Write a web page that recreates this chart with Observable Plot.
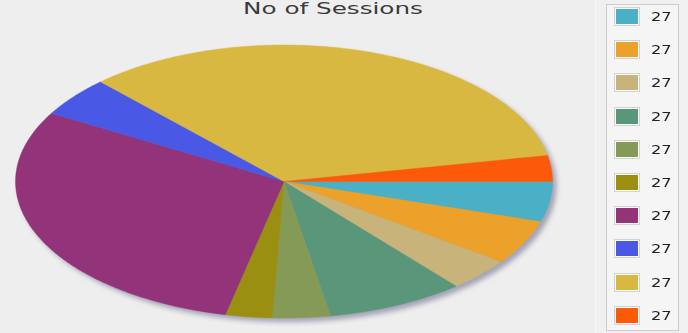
<!DOCTYPE html>
<html><head><meta charset="utf-8">
<script src="https://cdn.jsdelivr.net/npm/d3@7"></script>
<script src="https://cdn.jsdelivr.net/npm/@observablehq/plot@0.6"></script>
<style>
html,body{margin:0;padding:0;background:#eeeeee;}
#wrap{position:relative;width:688px;height:333px;overflow:hidden;background:#eeeeee;font-family:"DejaVu Sans",sans-serif;}
#plot{position:absolute;left:0;top:0;}
#title{position:absolute;top:0;left:333px;font-size:16px;color:#3a3a3a;white-space:nowrap;line-height:18px;transform:translateX(-50%) scaleX(1.54);}
#strip{position:absolute;left:595px;top:0;width:93px;height:333px;background:#f0f0f0;border-left:1px solid #f8f8f8;}
#legend{position:absolute;left:606px;top:4px;width:71px;height:325px;border:1px solid #cdcdcd;background:#f5f5f5;}
.item{position:absolute;left:0;width:71px;height:18px;}
.sw{position:absolute;left:8px;top:0;width:22px;height:15px;border:1.5px solid #fbfbfb;box-shadow:0 0 0 1px rgba(150,150,150,0.35);}
.lab{position:absolute;left:44px;top:0;line-height:18px;font-size:12px;color:#222;transform:scaleX(1.35);transform-origin:left center;}
</style>
</head><body>
<div id="wrap">
  <div id="strip"></div>
  <div id="plot"></div>
  <div id="title"></div>
  <div id="legend"></div>
</div>
<script>
const title = "No of Sessions";
const labels = ["27","27","27","27","27","27","27","27","27","27"];
const values = [4.75, 5.28, 3.89, 8.31, 3.47, 2.81, 29.83, 4.69, 33.92, 3.06];
const colors = ["#4ab0c6","#eba12a","#c8b47a","#5a977a","#869a58","#9b8f12","#93337a","#4a58e6","#d8b840","#fc5a08"];

document.getElementById("title").textContent = title;

const keys = d3.range(values.length);
const arcs = d3.pie().sort(null).value(d => d)
  .startAngle(Math.PI / 2).endAngle(Math.PI / 2 + 2 * Math.PI)(values);

const pts = [];
arcs.forEach((a, i) => {
  pts.push({k: i, u: 0, v: 0});
  const n = Math.max(2, Math.ceil((a.endAngle - a.startAngle) / 0.01));
  for (let j = 0; j <= n; j++) {
    const t = a.startAngle + (a.endAngle - a.startAngle) * j / n;
    pts.push({k: i, u: Math.sin(t), v: Math.cos(t)});
  }
  pts.push({k: i, u: 0, v: 0});
});
const shadow = d3.range(0, 361, 1).map(d => ({u: Math.cos(d * Math.PI / 180), v: Math.sin(d * Math.PI / 180)}));

const chart = Plot.plot({
  width: 595, height: 333, margin: 0,
  style: {background: "transparent", overflow: "visible"},
  x: {domain: [-1, 1], range: [15, 552], axis: null},
  y: {domain: [-1, 1], range: [317.5, 44.5], axis: null},
  color: {type: "ordinal", domain: keys, range: colors},
  marks: [
    Plot.line(shadow, {x: "u", y: "v", fill: "#8a8aa2", fillOpacity: 0.75, stroke: "none", dx: 4, dy: 4, imageFilter: "blur(2.5px)"}),
    Plot.line(pts, {x: "u", y: "v", z: "k", fill: "k", stroke: "k", strokeWidth: 0.4})
  ]
});
document.getElementById("plot").appendChild(chart);

const legend = document.getElementById("legend");
labels.forEach((l, i) => {
  const it = document.createElement("div");
  it.className = "item";
  it.style.top = (3 + i * 33.2) + "px";
  const sw = document.createElement("div");
  sw.className = "sw";
  sw.style.background = colors[i];
  const lb = document.createElement("div");
  lb.className = "lab";
  lb.textContent = l;
  it.appendChild(sw); it.appendChild(lb);
  legend.appendChild(it);
});
</script>
</body></html>
